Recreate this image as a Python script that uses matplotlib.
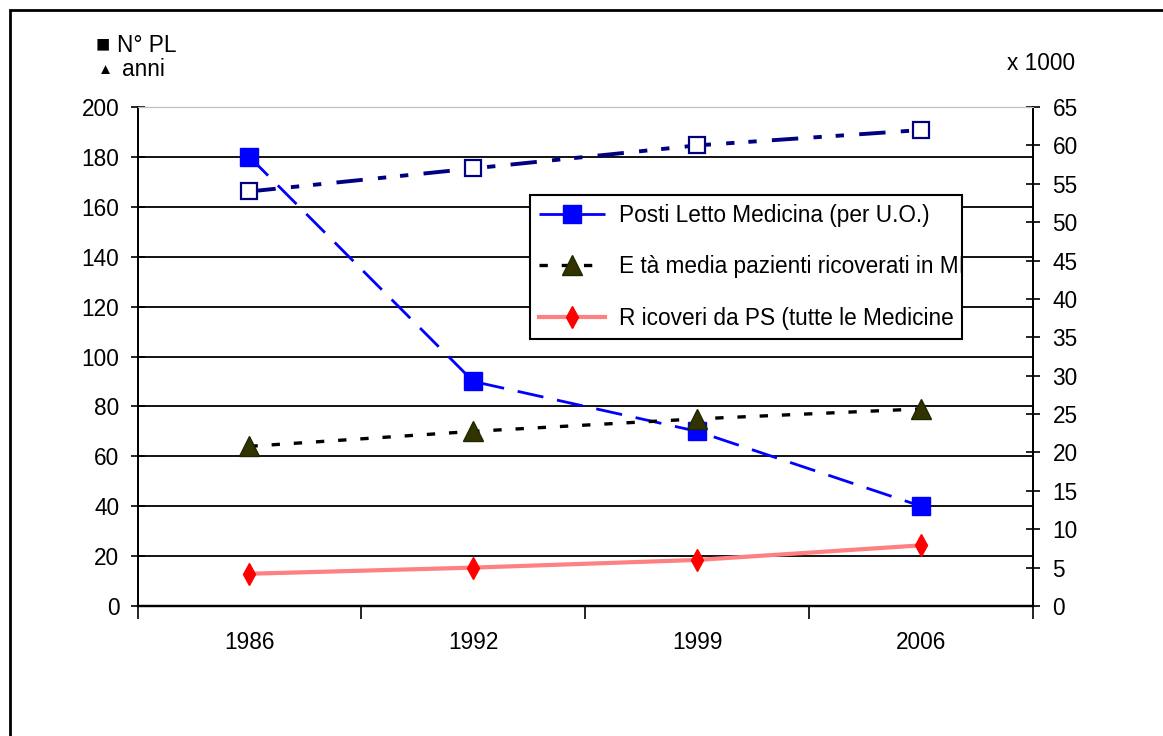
import matplotlib.pyplot as plt
from matplotlib.patches import Rectangle
import numpy as np

plt.rcParams['font.family'] = ['Liberation Sans', 'DejaVu Sans']
plt.rcParams['lines.scale_dashes'] = False

# data
anni = ["1986", "1992", "1999", "2006"]
posti_letto = [180, 90, 70, 40]          # left axis (N° PL)
eta_media = [64, 70, 75, 79]             # left axis (anni)
ricoveri_ps = [4.2, 5.0, 6.0, 7.9]       # right axis (x 1000)
ricoveri_tot = [54, 57, 60, 62]          # right axis (x 1000), not in legend

lbl_pl = "Posti Letto Medicina (per U.O.)"
lbl_eta = "E tà media pazienti ricoverati in MI"
lbl_ps = "R icoveri da PS (tutte le Medicine"

fs = 16.3
fig = plt.figure(figsize=(11.63, 7.36), dpi=100)
ax = fig.add_axes([137.5 / 1163, 1 - 606 / 736, 895.5 / 1163, 499 / 736])
ax2 = ax.twinx()

x = np.arange(len(anni))

# left axis series
l1, = ax.plot(x, posti_letto, color="#0000FF", lw=2.0, dashes=(19, 10),
              marker="s", ms=13, mfc="#0000FF", mec="#0000FF", label=lbl_pl)
l2, = ax.plot(x, eta_media, color="black", lw=2.4, dashes=(6, 10),
              marker="^", ms=14, mfc="#333300", mec="#1a2a00", mew=1.0, label=lbl_eta)

# right axis series
l3, = ax2.plot(x, ricoveri_ps, color="#FF8080", lw=3.0,
               marker="d", ms=11, mfc="#FF0000", mec="#FF0000", label=lbl_ps)
ax2.plot(x, ricoveri_tot, color="#000080", lw=2.8, dashes=(19, 11, 6, 10, 6, 11),
         marker="s", ms=12, mfc="white", mec="#000080", mew=1.6)

ax.set_xlim(-0.5, len(anni) - 0.5)
ax.set_ylim(0, 200)
ax2.set_ylim(0, 65)

ax.set_xticks(x)
ax.set_xticklabels(anni, fontsize=fs)
ax.set_xticks(np.arange(-0.5, len(anni), 1), minor=True)
ax.tick_params(axis="x", which="major", length=0, pad=18)
ax.tick_params(axis="x", which="minor", length=9, width=1.2, direction="out")

ax.set_yticks(np.arange(0, 201, 20))
ax.tick_params(axis="y", labelsize=fs, direction="inout", length=10, width=1.2, pad=8)
ax2.set_yticks(np.arange(0, 66, 5))
ax2.tick_params(axis="y", labelsize=fs, direction="inout", length=10, width=1.2, pad=9)

ax.grid(axis="y", color="black", lw=1.3)
ax.yaxis.get_gridlines()[-1].set_color("#c0c0c0")
ax.set_axisbelow(True)

for a in (ax, ax2):
    a.spines["top"].set_color("#c0c0c0")
    a.spines["left"].set_linewidth(1.3)
    a.spines["right"].set_linewidth(1.3)
    a.spines["bottom"].set_linewidth(1.6)

leg = ax2.legend(handles=[l1, l2, l3], loc="upper left",
                 bbox_to_anchor=(0.4383, 0.543, 0.4824, 0.2806), mode="expand",
                 fontsize=fs, frameon=True, fancybox=False, edgecolor="black",
                 framealpha=1, handlelength=2.9, handletextpad=0.65,
                 labelspacing=1.25, borderpad=0.4, borderaxespad=0, numpoints=1)
leg.get_frame().set_linewidth(1.5)

# unit labels
fig.text(96 / 1163, 1 - 45 / 736, "■", fontsize=17, va="center", ha="left")
fig.text(117 / 1163, 1 - 45 / 736, "N° PL", fontsize=fs, va="center", ha="left")
fig.text(98 / 1163, 1 - 70 / 736, "▲", fontsize=11, va="center", ha="left")
fig.text(122 / 1163, 1 - 70 / 736, "anni", fontsize=fs, va="center", ha="left")
fig.text(1075 / 1163, 1 - 63 / 736, "x 1000", fontsize=fs, va="center", ha="right")

# outer frame (cut off at right and bottom as in the original)
fig.patches.append(Rectangle((10 / 1163, -0.1), 1.2, 1.1 - 10 / 736,
                             transform=fig.transFigure, fill=False,
                             edgecolor="black", lw=2))

fig.savefig("out.png", dpi=100)
